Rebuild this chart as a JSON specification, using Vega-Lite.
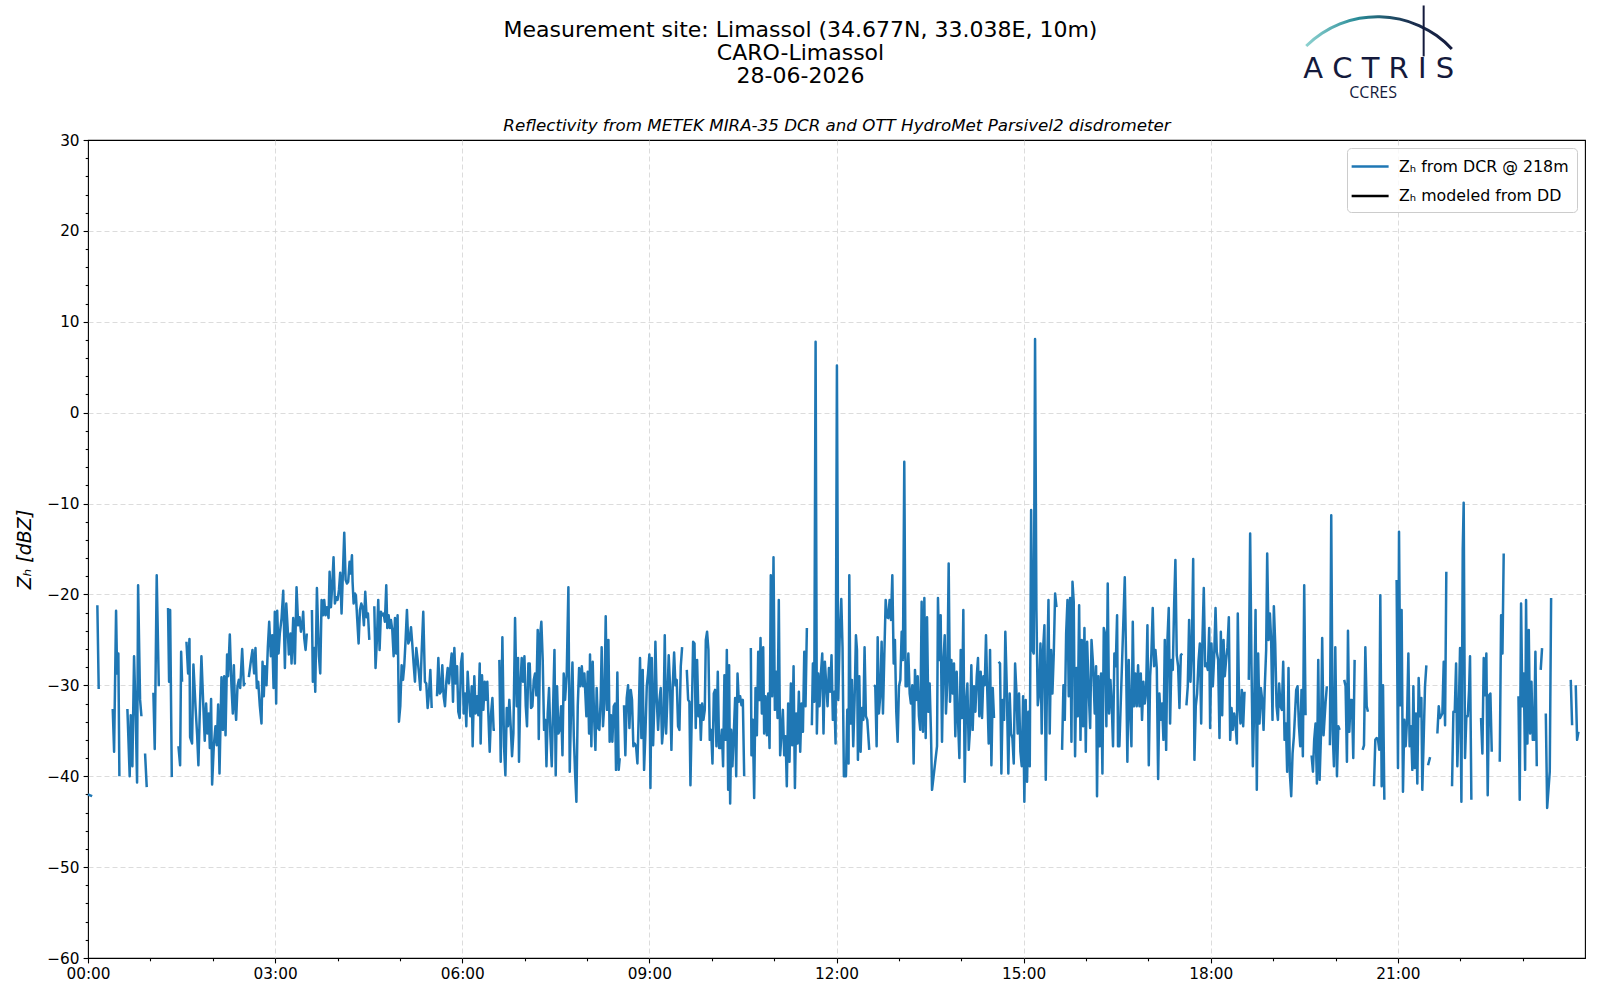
{
  "$schema": "https://vega.github.io/schema/vega-lite/v6.json",
  "width": 1497,
  "height": 818,
  "autosize": {"type": "none"},
  "padding": {"left": 88, "top": 140, "right": 15, "bottom": 42},
  "background": "white",
  "title": {
    "text": ["Measurement site: Limassol (34.677N, 33.038E, 10m)", "CARO-Limassol", "28-06-2026"],
    "anchor": "middle",
    "dx": -36,
    "offset": -84,
    "font": "DejaVu Sans",
    "fontSize": 22,
    "fontWeight": "normal",
    "lineHeight": 23,
    "color": "black"
  },
  "datasets": {
    "dcr": [
      {"m":0,"z":-42},{"m":2,"z":-42.1},{"m":4,"z":-42.2},{"m":6,"z":null},
      {"m":9,"z":-21.2},{"m":10.3,"z":-30.4},{"m":15,"z":null},
      {"m":23.8,"z":-32.6},{"m":25.1,"z":-37.3},{"m":27,"z":-21.8},{"m":28,"z":-28.7},{"m":29.2,"z":-26.5},{"m":30.2,"z":-40},{"m":33,"z":null},
      {"m":37.9,"z":-32.6},{"m":40.1,"z":-40},{"m":41.1,"z":-33.3},{"m":42.7,"z":-38.9},{"m":44.3,"z":-26.8},{"m":45.9,"z":-33.4},{"m":47.2,"z":-40.7},{"m":48.2,"z":-19},{"m":50.1,"z":-31.6},{"m":51.4,"z":-33.4},{"m":53.5,"z":null},
      {"m":54.9,"z":-37.5},{"m":56.5,"z":-41.2},{"m":59,"z":null},
      {"m":62.9,"z":-30.8},{"m":64.2,"z":-37},{"m":66.1,"z":-17.9},{"m":68.1,"z":-30.1},{"m":72,"z":null},
      {"m":77,"z":-21.5},{"m":78,"z":-29.6},{"m":79,"z":-21.7},{"m":80.6,"z":-40.1},{"m":84,"z":null},
      {"m":87,"z":-36.7},{"m":88.6,"z":-38.8},{"m":89.6,"z":-26.3},{"m":90.5,"z":-29.6},{"m":92.5,"z":null},
      {"m":94.7,"z":-25.2},{"m":96.3,"z":-28.7},{"m":97.6,"z":-24.9},{"m":98.2,"z":-35.7},{"m":100.1,"z":-36.4},{"m":101.4,"z":-27.7},{"m":103.4,"z":-32.3},{"m":105,"z":-35.5},{"m":106.2,"z":-38.8},{"m":107.5,"z":-33.1},{"m":109.1,"z":-26.8},{"m":110.7,"z":-31.6},{"m":112.3,"z":-36.1},{"m":113.6,"z":-32},{"m":114.9,"z":-35.3},{"m":116.2,"z":-33.1},{"m":117.2,"z":-36.9},{"m":118.4,"z":-31.5},{"m":119.4,"z":-40.9},{"m":121,"z":-36.7},{"m":122.6,"z":-34.5},{"m":123.9,"z":-36.6},{"m":125.2,"z":-32.1},{"m":126.5,"z":-39.7},{"m":128.4,"z":-29.1},{"m":129.7,"z":-34.9},{"m":131,"z":-29},{"m":132.3,"z":-35.5},{"m":133.8,"z":-26.6},{"m":134.8,"z":-29},{"m":136.4,"z":-24.4},{"m":138,"z":-30.1},{"m":139.3,"z":-33.1},{"m":140.3,"z":-27.8},{"m":141.2,"z":-31.6},{"m":142.5,"z":-33.8},{"m":143.8,"z":-30.1},{"m":145.1,"z":-29.4},{"m":146.4,"z":-30.3},{"m":148.3,"z":-26},{"m":149.9,"z":-30},{"m":150.9,"z":-29.7},{"m":152.5,"z":null},
      {"m":154.7,"z":-29.1},{"m":156.6,"z":-27.4},{"m":158.2,"z":-26.1},{"m":159.8,"z":-28.7},{"m":161.1,"z":-25.9},{"m":162.4,"z":-30.3},{"m":163.7,"z":-29.6},{"m":165.3,"z":-32.3},{"m":166.9,"z":-34.2},{"m":167.9,"z":-27.4},{"m":169.1,"z":-31.2},{"m":170.1,"z":-27.9},{"m":171.7,"z":-30},{"m":173,"z":-25.8},{"m":174.3,"z":-23},{"m":175.9,"z":-26.8},{"m":177.2,"z":-24.5},{"m":178.5,"z":-30.3},{"m":179.7,"z":-21.9},{"m":181,"z":-32},{"m":182,"z":-21.8},{"m":183.3,"z":-26.5},{"m":184.5,"z":-24.3},{"m":186.2,"z":-22.6},{"m":187.8,"z":-19.6},{"m":189.4,"z":-28.1},{"m":190.7,"z":-21},{"m":192,"z":-23.6},{"m":193.2,"z":-26.6},{"m":194.8,"z":-24.3},{"m":195.8,"z":-27.6},{"m":197.4,"z":-22.6},{"m":199,"z":-27.6},{"m":200.6,"z":-19.2},{"m":202.2,"z":-23.4},{"m":203.5,"z":-22.5},{"m":204.8,"z":-24.1},{"m":206.1,"z":-23.2},{"m":207,"z":-21.9},{"m":208,"z":-24.8},{"m":209.3,"z":-26.1},{"m":210.5,"z":-24.3},{"m":212.5,"z":null},
      {"m":215.4,"z":-21.7},{"m":216.3,"z":-29.6},{"m":217.6,"z":-25.9},{"m":218.6,"z":-30.7},{"m":220.2,"z":-19.3},{"m":222.1,"z":-26.8},{"m":223.4,"z":-28.7},{"m":224.7,"z":-20.6},{"m":226,"z":-22.3},{"m":227.2,"z":-20.6},{"m":228.5,"z":-22.3},{"m":229.8,"z":-21.4},{"m":231.4,"z":-22.6},{"m":232.4,"z":-17.5},{"m":233.7,"z":-21.4},{"m":235,"z":-18.8},{"m":236.2,"z":-15.9},{"m":237.5,"z":-21},{"m":238.8,"z":-20.3},{"m":240.1,"z":-20.6},{"m":241.4,"z":-19.5},{"m":242.6,"z":-17.6},{"m":243.9,"z":-22.1},{"m":246.5,"z":-13.2},{"m":247.8,"z":-18.4},{"m":249.1,"z":-18.8},{"m":250.3,"z":-18.6},{"m":251.6,"z":-16.4},{"m":252.6,"z":-17.7},{"m":253.9,"z":-15.7},{"m":254.5,"z":-18.6},{"m":255.5,"z":-21},{"m":256.8,"z":-19.9},{"m":257.7,"z":-20.1},{"m":259,"z":-22.8},{"m":260.3,"z":-25.4},{"m":261.6,"z":-21.7},{"m":262.9,"z":-21},{"m":264.1,"z":-21.4},{"m":265.4,"z":-23.4},{"m":266.7,"z":-19.7},{"m":268,"z":-22.5},{"m":269.3,"z":-22.1},{"m":270.6,"z":-25},{"m":272.5,"z":null},
      {"m":275.4,"z":-21.3},{"m":276.6,"z":-28.1},{"m":277.9,"z":-25},{"m":279.2,"z":-20.6},{"m":280.5,"z":-26.1},{"m":281.8,"z":-21.9},{"m":283.1,"z":-22.3},{"m":284.4,"z":-22.1},{"m":285.6,"z":-23},{"m":286.9,"z":-19},{"m":287.9,"z":-23.7},{"m":289.2,"z":-22.3},{"m":290.4,"z":-23.7},{"m":291.4,"z":-22.8},{"m":292.7,"z":-23.9},{"m":294,"z":-26.8},{"m":295.3,"z":-22.6},{"m":296.5,"z":-26.5},{"m":297.8,"z":-22.3},{"m":299.1,"z":-34},{"m":300.4,"z":-32.3},{"m":301.7,"z":-27.8},{"m":303,"z":-29.4},{"m":304.2,"z":-27.9},{"m":305.5,"z":-25},{"m":306.8,"z":-21.7},{"m":308.1,"z":-25.4},{"m":309.4,"z":-25},{"m":310.7,"z":-23.6},{"m":311.9,"z":-25.4},{"m":313.2,"z":-27.6},{"m":314.5,"z":-29.6},{"m":315.8,"z":-25.9},{"m":317.1,"z":-27.2},{"m":318.4,"z":-28.7},{"m":319.7,"z":-30.5},{"m":320.9,"z":-26.5},{"m":322.5,"z":-21.9},{"m":324.1,"z":-29.6},{"m":325.4,"z":-29.8},{"m":326.7,"z":-32.5},{"m":328,"z":-30.9},{"m":329.3,"z":-28.3},{"m":330.6,"z":-32.5},{"m":332.5,"z":null},
      {"m":335.7,"z":-31.2},{"m":337,"z":-27},{"m":338.3,"z":-30.9},{"m":339.5,"z":-30.7},{"m":340.8,"z":-27.8},{"m":342.1,"z":-31.2},{"m":343.4,"z":-32.3},{"m":344.7,"z":-29.6},{"m":346,"z":-28.1},{"m":347.2,"z":-29.8},{"m":348.5,"z":-28.1},{"m":349.8,"z":-26.5},{"m":351.1,"z":-31.8},{"m":352.4,"z":-25.9},{"m":353.7,"z":-29.8},{"m":355,"z":-27.9},{"m":356.2,"z":-32.9},{"m":357.5,"z":-33.6},{"m":358.8,"z":-27.6},{"m":360.1,"z":-26.5},{"m":361.4,"z":-33.1},{"m":362.7,"z":-30.9},{"m":363.9,"z":-34.5},{"m":365.2,"z":-28.5},{"m":366.5,"z":-31.2},{"m":367.8,"z":-33.4},{"m":369.1,"z":-30.1},{"m":370,"z":-36.7},{"m":371.6,"z":-29},{"m":372.9,"z":-33.1},{"m":374.2,"z":-31.2},{"m":375.5,"z":-33.3},{"m":376.8,"z":-27.6},{"m":377.7,"z":-36.4},{"m":379,"z":-28.9},{"m":380.3,"z":-32.7},{"m":381.6,"z":-29.6},{"m":382.9,"z":-31.6},{"m":384.1,"z":-29.6},{"m":385.1,"z":-33.1},{"m":386.4,"z":-37.3},{"m":387.7,"z":-33.1},{"m":389,"z":-31.4},{"m":390.2,"z":-34.9},{"m":391.5,"z":-34.9},{"m":393.5,"z":null},
      {"m":395.7,"z":-27.2},{"m":397,"z":-38.4},{"m":398.6,"z":-24.7},{"m":400.2,"z":-36.7},{"m":401.5,"z":-39.9},{"m":402.8,"z":-32.5},{"m":404,"z":-34.5},{"m":405.3,"z":-31.6},{"m":406.6,"z":-34.5},{"m":407.9,"z":-37.8},{"m":409.2,"z":-35.3},{"m":410.8,"z":-22.6},{"m":412.4,"z":-32.3},{"m":413.7,"z":-27},{"m":414.6,"z":-38.4},{"m":415.9,"z":-30.1},{"m":417.2,"z":-27},{"m":418.5,"z":-29.6},{"m":419.8,"z":-26.8},{"m":421.1,"z":-32.3},{"m":422.3,"z":-34.5},{"m":423.6,"z":-27.6},{"m":424.9,"z":-27.6},{"m":426.2,"z":-32.5},{"m":427.5,"z":-32.3},{"m":428.8,"z":-29.4},{"m":430,"z":-28.7},{"m":431.3,"z":-31.1},{"m":432.6,"z":-23.9},{"m":433.6,"z":-35.9},{"m":434.9,"z":-24.5},{"m":436.1,"z":-23},{"m":437.4,"z":-27.2},{"m":438.7,"z":-34.9},{"m":440,"z":-33.8},{"m":441,"z":-38.9},{"m":442.2,"z":-33.1},{"m":443.5,"z":-30.3},{"m":444.8,"z":-35.6},{"m":446.1,"z":-38.9},{"m":447.4,"z":-32.3},{"m":448.7,"z":-26.1},{"m":449.9,"z":-39.9},{"m":451.2,"z":-30.1},{"m":452.5,"z":-35.3},{"m":453.8,"z":-34.9},{"m":455.1,"z":-32.3},{"m":456.4,"z":-37.7},{"m":457.6,"z":-28.7},{"m":458.9,"z":-31.6},{"m":460.5,"z":-28.7},{"m":462.1,"z":-19.2},{"m":463.4,"z":-39.5},{"m":464.7,"z":-32.3},{"m":466,"z":-27.5},{"m":467.3,"z":-35.6},{"m":468.5,"z":-39.5},{"m":469.8,"z":-42.8},{"m":471.1,"z":-32.3},{"m":472.4,"z":-28.1},{"m":473.7,"z":-30.1},{"m":475,"z":-27.9},{"m":476.3,"z":-30.1},{"m":477.5,"z":-28.7},
      {"m":479.4,"z":-33.4},{"m":480.7,"z":-28.5},{"m":482,"z":-35.3},{"m":482.9,"z":-26.6},{"m":484.2,"z":-36.7},{"m":485.5,"z":-27.4},{"m":486.8,"z":-33.4},{"m":488.1,"z":-37.1},{"m":489.3,"z":-30.3},{"m":490.6,"z":-34.7},{"m":491.9,"z":-34.9},{"m":493.2,"z":-31.4},{"m":494.1,"z":-25.8},{"m":495.4,"z":-34.5},{"m":496.7,"z":-32},{"m":498,"z":-22.4},{"m":499.3,"z":-32.7},{"m":500.6,"z":-25},{"m":501.8,"z":-36.2},{"m":503.1,"z":-33.3},{"m":504.4,"z":-36.2},{"m":505.7,"z":-32.3},{"m":507,"z":-32},{"m":507.9,"z":-39.3},{"m":509.2,"z":-28.6},{"m":510.5,"z":-39.3},{"m":511.5,"z":-38},{"m":513.5,"z":null},
      {"m":515.6,"z":-32.2},{"m":516.9,"z":-37.7},{"m":518.2,"z":-31.4},{"m":519.5,"z":-30},{"m":520.8,"z":-34.7},{"m":522.1,"z":-30.5},{"m":523.3,"z":-31.6},{"m":524.6,"z":-36.7},{"m":525.9,"z":-36.4},{"m":527.2,"z":-36.7},{"m":528.5,"z":-38.6},{"m":529.8,"z":-33.1},{"m":531,"z":-27},{"m":532.3,"z":-35.8},{"m":533.6,"z":-28.3},{"m":534.9,"z":-39.3},{"m":536.2,"z":-35.3},{"m":537.5,"z":-30.1},{"m":538.7,"z":-28.7},{"m":540,"z":-26.6},{"m":541,"z":-41.3},{"m":542.3,"z":-27},{"m":543.6,"z":-36.6},{"m":544.8,"z":-31.8},{"m":545.8,"z":-25.2},{"m":547.1,"z":-31.6},{"m":548.4,"z":-34.9},{"m":549.7,"z":-31.6},{"m":550.9,"z":-30.3},{"m":552.2,"z":-36.4},{"m":553.5,"z":-34.5},{"m":554.8,"z":-24.5},{"m":556.1,"z":-35.3},{"m":557.4,"z":-31.2},{"m":558.6,"z":-26.7},{"m":559.9,"z":-30.1},{"m":561.2,"z":-37.1},{"m":562.5,"z":-30},{"m":563.8,"z":-26.4},{"m":565.1,"z":-30},{"m":566.3,"z":-29.4},{"m":567.6,"z":-34.5},{"m":568.9,"z":-34.9},{"m":570.2,"z":-27.9},{"m":571.5,"z":-25.8},{"m":573.5,"z":null},
      {"m":576,"z":-28.3},{"m":577.3,"z":-31.6},{"m":578.5,"z":-31.8},{"m":579.5,"z":-41},{"m":580.8,"z":-33.1},{"m":582.1,"z":-25.2},{"m":583.4,"z":-25.4},{"m":584.6,"z":-34.7},{"m":585.9,"z":-27.2},{"m":587.2,"z":-33.4},{"m":588.5,"z":-32.2},{"m":589.5,"z":-36},{"m":590.7,"z":-32},{"m":592,"z":-33.8},{"m":593.3,"z":-32.7},{"m":594.3,"z":-25},{"m":595.5,"z":-24.1},{"m":596.8,"z":-26.1},{"m":598.1,"z":-36},{"m":599.4,"z":-34.9},{"m":600.7,"z":-38.6},{"m":602,"z":-30.9},{"m":603.2,"z":-30.5},{"m":604.5,"z":-36.7},{"m":605.8,"z":-28.5},{"m":607.1,"z":-36.9},{"m":608.4,"z":-36.9},{"m":609.7,"z":-34.9},{"m":610.9,"z":-38.9},{"m":612.2,"z":-28.9},{"m":613.5,"z":-36},{"m":614.5,"z":-26.1},{"m":615.8,"z":-41.5},{"m":616.7,"z":-27.8},{"m":617.7,"z":-43},{"m":618.7,"z":-34.9},{"m":619.9,"z":-38.9},{"m":621.2,"z":-35.3},{"m":622.5,"z":-31.4},{"m":623.5,"z":-40},{"m":624.8,"z":-28.7},{"m":626,"z":-31.8},{"m":627.3,"z":-31.2},{"m":628.6,"z":-32.2},{"m":629.9,"z":-31.6},{"m":631.2,"z":-40},{"m":634,"z":null},
      {"m":637.6,"z":-25.9},{"m":638.2,"z":-37.7},{"m":639.5,"z":-33.8},{"m":640.8,"z":-42.4},{"m":642.1,"z":-30.3},{"m":643.4,"z":-35.5},{"m":644.7,"z":-26.3},{"m":645.9,"z":-31.6},{"m":646.9,"z":-24.8},{"m":648.2,"z":-33.1},{"m":649.5,"z":-25.8},{"m":650.4,"z":-35.3},{"m":651.7,"z":-31.2},{"m":653,"z":-35.5},{"m":654.3,"z":-30.9},{"m":655.6,"z":-36.9},{"m":656.8,"z":-17.9},{"m":658.1,"z":-31.2},{"m":659.4,"z":-15.9},{"m":660.7,"z":-32.7},{"m":662,"z":-28.5},{"m":663.3,"z":-33.6},{"m":664.5,"z":-20.6},{"m":665.8,"z":-37.7},{"m":667.1,"z":-35.3},{"m":668.4,"z":-32.7},{"m":669.7,"z":-37.7},{"m":671,"z":-35.6},{"m":672.2,"z":-41.1},{"m":673.5,"z":-32},{"m":674.8,"z":-38.4},{"m":676.1,"z":-29.8},{"m":677.4,"z":-36.6},{"m":678.7,"z":-27.9},{"m":680,"z":-41.3},{"m":681.2,"z":-33.1},{"m":682.5,"z":-36.4},{"m":683.8,"z":-30.7},{"m":685.1,"z":-37.3},{"m":686.4,"z":-32},{"m":687.7,"z":-35.1},{"m":689,"z":-26.3},{"m":690.2,"z":-32.3},{"m":691.5,"z":-23.7},{"m":694,"z":null},
      {"m":696.3,"z":-34.4},{"m":697.3,"z":-27.6},{"m":698.6,"z":-31.8},{"m":699.9,"z":7.8},{"m":701.1,"z":-35.3},{"m":702.4,"z":-28.7},{"m":703.7,"z":-32.3},{"m":705,"z":-28.7},{"m":706.3,"z":-26.5},{"m":707.5,"z":-35.3},{"m":708.8,"z":-27.4},{"m":710.1,"z":-29.8},{"m":711.4,"z":-32.3},{"m":712.7,"z":-28.1},{"m":714,"z":-30.7},{"m":715.2,"z":-26.7},{"m":716.5,"z":-33.8},{"m":717.8,"z":-30.7},{"m":719.1,"z":-36.4},{"m":720.4,"z":5.2},{"m":721.7,"z":-31.6},{"m":723,"z":-25},{"m":724.6,"z":-20.5},{"m":725.8,"z":-25.8},{"m":727.1,"z":-40},{"m":729.1,"z":-40},{"m":730.4,"z":-32.7},{"m":731.6,"z":-38.6},{"m":732.3,"z":-17.9},{"m":733.6,"z":-34.2},{"m":734.8,"z":-29.4},{"m":736.1,"z":-36.7},{"m":737.4,"z":-31.6},{"m":738.7,"z":-24.5},{"m":739.7,"z":-26.1},{"m":740.6,"z":-38.2},{"m":741.9,"z":-29},{"m":743.2,"z":-37.3},{"m":744.5,"z":-32.5},{"m":745.8,"z":-33.8},{"m":747,"z":-25.8},{"m":748.3,"z":-33.4},{"m":749.6,"z":-33.8},{"m":751.5,"z":-37.1},{"m":753.5,"z":null},
      {"m":756,"z":-30},{"m":757.3,"z":-30.1},{"m":758.6,"z":-36.7},{"m":759.6,"z":-24.7},{"m":760.8,"z":-33.1},{"m":762.1,"z":-31.1},{"m":763.4,"z":-25.2},{"m":764.7,"z":-33.1},{"m":766,"z":-26.7},{"m":767.3,"z":-20.6},{"m":768.5,"z":-22.5},{"m":769.8,"z":-22.6},{"m":771.1,"z":-20.6},{"m":772.4,"z":-22.8},{"m":773.7,"z":-17.9},{"m":775,"z":-27.6},{"m":776.2,"z":-25},{"m":777.5,"z":-32.9},{"m":778.8,"z":-36.2},{"m":780.1,"z":-30.1},{"m":781.4,"z":-29.4},{"m":782.7,"z":-24.1},{"m":783.9,"z":-27.2},{"m":785.2,"z":-5.4},{"m":786.5,"z":-30.1},{"m":787.8,"z":-30.1},{"m":789.1,"z":-26.5},{"m":790.4,"z":-30.9},{"m":791.6,"z":-32},{"m":792.9,"z":-30},{"m":794.2,"z":-38.6},{"m":795.5,"z":-28.3},{"m":796.8,"z":-31.6},{"m":798.1,"z":-29},{"m":799.3,"z":-33.4},{"m":800.6,"z":-34.9},{"m":801.9,"z":-20.8},{"m":803.2,"z":-35.1},{"m":804.5,"z":-20.4},{"m":805.8,"z":-35.8},{"m":807.1,"z":-22.5},{"m":808.3,"z":-32.9},{"m":809.6,"z":-29.8},{"m":810.9,"z":-35.3},{"m":811.9,"z":-41.5},{"m":816.7,"z":-36.7},{"m":817.6,"z":-20.4},{"m":818.9,"z":-27.2},{"m":820.2,"z":-22.3},{"m":821.5,"z":-36.2},{"m":822.8,"z":-27.4},{"m":824.1,"z":-24.5},{"m":825.3,"z":-33.1},{"m":826.6,"z":-29.6},{"m":827.9,"z":-16.6},{"m":829.2,"z":-31.8},{"m":830.5,"z":-27.2},{"m":831.8,"z":-30.9},{"m":833,"z":-27.6},{"m":834.3,"z":-35.6},{"m":835.6,"z":-28.5},{"m":836.9,"z":-33.8},{"m":838.2,"z":-38},{"m":839.5,"z":-26.1},{"m":840.7,"z":-33.6},{"m":842,"z":-21.7},{"m":843.3,"z":-40.6},{"m":844.6,"z":-32},{"m":845.9,"z":-29.8},{"m":847.2,"z":-37.1},{"m":848.4,"z":-34.9},{"m":849.7,"z":-27.8},{"m":851,"z":-34.9},{"m":852.3,"z":-30.1},{"m":853.6,"z":-32.9},{"m":854.9,"z":-29},{"m":856.1,"z":-27},{"m":857.4,"z":-33.4},{"m":858.7,"z":-28.5},{"m":860,"z":-33.6},{"m":861.3,"z":-29},{"m":862.6,"z":-30},{"m":863.8,"z":-24.5},{"m":865.1,"z":-30.9},{"m":866.4,"z":-36.4},{"m":867.7,"z":-26.1},{"m":869,"z":-38.8},{"m":870.3,"z":-30.3},{"m":871.5,"z":-33.6},{"m":873.5,"z":null},
      {"m":876,"z":-27.4},{"m":877.3,"z":-27.6},{"m":878.6,"z":-39.7},{"m":879.9,"z":-31.6},{"m":881.2,"z":-33.8},{"m":882.4,"z":-24.1},{"m":883.7,"z":-29.8},{"m":885.3,"z":-39.7},{"m":886.6,"z":-30.9},{"m":887.9,"z":-35.3},{"m":889.2,"z":-35.8},{"m":890.5,"z":-38.6},{"m":891.8,"z":-27.6},{"m":893,"z":-30.5},{"m":894.3,"z":-35.3},{"m":895.6,"z":-30.9},{"m":896.9,"z":-37.3},{"m":898.2,"z":-38.9},{"m":899.5,"z":-31.2},{"m":900.7,"z":-42.8},{"m":902,"z":-31.6},{"m":903.3,"z":-40.6},{"m":904.6,"z":-32.9},{"m":905.9,"z":-38.9},{"m":907.2,"z":-10.7},{"m":908.5,"z":-26.1},{"m":909.7,"z":-26.5},{"m":911,"z":8.1},{"m":912.3,"z":-21.7},{"m":913.6,"z":-32.2},{"m":914.9,"z":-30.9},{"m":916.2,"z":-25.4},{"m":917.4,"z":-35.3},{"m":918.7,"z":-26.1},{"m":920,"z":-23.4},{"m":921.3,"z":-40.4},{"m":922.6,"z":-28.7},{"m":923.9,"z":-20.6},{"m":925.1,"z":-35.3},{"m":926.4,"z":-26.1},{"m":927.7,"z":-30.9},{"m":929,"z":-26.5},{"m":930.3,"z":-19.9},{"m":931.6,"z":-21.4},{"m":934,"z":null},
      {"m":937,"z":-37.1},{"m":938.3,"z":-30},{"m":939.6,"z":-33.8},{"m":940.9,"z":-24.3},{"m":942.2,"z":-20.6},{"m":943.4,"z":-31.2},{"m":944.7,"z":-20.4},{"m":946,"z":-36.2},{"m":947,"z":-18.6},{"m":948.2,"z":-20.8},{"m":949.5,"z":-37.8},{"m":950.8,"z":-28.1},{"m":952.1,"z":-33.4},{"m":953.4,"z":-21.2},{"m":954.7,"z":-36},{"m":955.9,"z":-25},{"m":957.2,"z":-34.5},{"m":958.5,"z":-23.7},{"m":959.8,"z":-37.3},{"m":961.1,"z":-25.2},{"m":962.7,"z":-30.9},{"m":964,"z":-34.7},{"m":965.3,"z":-25},{"m":966.9,"z":-27.9},{"m":968.4,"z":-33.1},{"m":969.7,"z":-27.9},{"m":970.6,"z":-42.2},{"m":971.9,"z":-29},{"m":973.2,"z":-36.7},{"m":974.5,"z":-28.7},{"m":975.8,"z":-39.7},{"m":977.1,"z":-23.7},{"m":978.3,"z":-24.3},{"m":979.6,"z":-34.5},{"m":980.9,"z":-18.8},{"m":982.2,"z":-33.1},{"m":983.5,"z":-29.4},{"m":984.8,"z":-32.3},{"m":986,"z":-36.7},{"m":987.3,"z":-26.5},{"m":988.6,"z":-27.9},{"m":989.9,"z":-22.3},{"m":990.8,"z":-36.7},{"m":992.1,"z":-36.7},{"m":997.3,"z":-18.1},{"m":998.5,"z":-26.8},{"m":999.8,"z":-38.4},{"m":1001.1,"z":-27.2},{"m":1002.4,"z":-32.7},{"m":1003.7,"z":-36.7},{"m":1005,"z":-23},{"m":1006.2,"z":-32.3},{"m":1007.5,"z":-28.7},{"m":1008.8,"z":-32.3},{"m":1010.1,"z":-27.8},{"m":1011.4,"z":-32.3},{"m":1012.7,"z":-28.7},{"m":1013.9,"z":-33.8},{"m":1015.2,"z":-29.6},{"m":1016.5,"z":-32},{"m":1017.8,"z":-30.7},{"m":1019.1,"z":-23.4},{"m":1020.4,"z":-38.8},{"m":1021.7,"z":-29},{"m":1022.9,"z":-26.5},{"m":1024.2,"z":-21.5},{"m":1025.5,"z":-27.9},{"m":1026.8,"z":-26.1},{"m":1028.1,"z":-28.1},{"m":1029.4,"z":-40.3},{"m":1030.6,"z":-30.9},{"m":1031.9,"z":-33.8},{"m":1033.2,"z":-32},{"m":1034.5,"z":-36},{"m":1035.8,"z":-25},{"m":1037.1,"z":-37.1},{"m":1038.4,"z":-24.8},{"m":1039.6,"z":-21.5},{"m":1040.9,"z":-34.2},{"m":1042.2,"z":-27.2},{"m":1043.5,"z":-28.3},{"m":1044.8,"z":-21},{"m":1046,"z":-16.2},{"m":1047.3,"z":-26.7},{"m":1048.6,"z":-27.9},{"m":1049.9,"z":-32.5},{"m":1051.2,"z":-26.7},{"m":1052.5,"z":-26.5},{"m":1054.5,"z":null},
      {"m":1056.6,"z":-32.2},{"m":1057.9,"z":-30.1},{"m":1059.2,"z":-22.8},{"m":1060.5,"z":-29.6},{"m":1061.8,"z":-25.8},{"m":1063.1,"z":-16.1},{"m":1064.3,"z":-38.2},{"m":1065.6,"z":-32.3},{"m":1066.9,"z":-30.9},{"m":1068.2,"z":-27.4},{"m":1069.5,"z":-25.4},{"m":1070.8,"z":-34.2},{"m":1072,"z":-25},{"m":1073.3,"z":-19.3},{"m":1074.6,"z":-27.9},{"m":1075.9,"z":-27.6},{"m":1077.2,"z":-28.3},{"m":1078.5,"z":-23.7},{"m":1079.4,"z":-34.7},{"m":1080.7,"z":-25.4},{"m":1082,"z":-30.1},{"m":1083.3,"z":-26.8},{"m":1084.6,"z":-21.5},{"m":1085.8,"z":-26.3},{"m":1087.1,"z":-27.2},{"m":1088.4,"z":-35.8},{"m":1089.7,"z":-24.1},{"m":1091,"z":-33.3},{"m":1092.3,"z":-25},{"m":1093.5,"z":-29},{"m":1094.8,"z":-27.2},{"m":1096.1,"z":-25.8},{"m":1097.4,"z":-22.5},{"m":1098.7,"z":-36},{"m":1100,"z":-32.5},{"m":1101.2,"z":-34.9},{"m":1102.5,"z":-33.1},{"m":1103.8,"z":-34.2},{"m":1105.1,"z":-36.4},{"m":1106,"z":-22.1},{"m":1107.3,"z":-32},{"m":1108.6,"z":-34.2},{"m":1109.9,"z":-30.5},{"m":1111.2,"z":-34.5},{"m":1112.5,"z":-30.7},{"m":1114.5,"z":null},
      {"m":1116.6,"z":-29.4},{"m":1117.9,"z":-13.3},{"m":1119.2,"z":-27.9},{"m":1120.5,"z":-38.9},{"m":1121.8,"z":-32.3},{"m":1123.1,"z":-21.7},{"m":1124.3,"z":-41.5},{"m":1125.6,"z":-26.5},{"m":1126.9,"z":-34.2},{"m":1128.2,"z":-30.3},{"m":1129.5,"z":-31.6},{"m":1130.8,"z":-34.9},{"m":1132,"z":-30.1},{"m":1133.3,"z":-26.1},{"m":1134.3,"z":-15.5},{"m":1135.6,"z":-25},{"m":1136.9,"z":-22.1},{"m":1138.1,"z":-25},{"m":1139.4,"z":-33.8},{"m":1140.7,"z":-21.3},{"m":1142,"z":-25.4},{"m":1143.3,"z":-32.3},{"m":1144.6,"z":-33.8},{"m":1145.8,"z":-29.8},{"m":1147.1,"z":-32.3},{"m":1148.4,"z":-32.7},{"m":1149.7,"z":-27.4},{"m":1151,"z":-36},{"m":1152.3,"z":-34.2},{"m":1153.5,"z":-39.5},{"m":1154.8,"z":-28.1},{"m":1156.1,"z":-39.7},{"m":1157.4,"z":-42.2},{"m":1158.7,"z":-37.5},{"m":1160,"z":-35.6},{"m":1162.2,"z":-30.5},{"m":1163.5,"z":-30.1},{"m":1164.8,"z":-34.4},{"m":1166.1,"z":-36.7},{"m":1167.3,"z":-30.5},{"m":1168.6,"z":-37.8},{"m":1169.9,"z":-19},{"m":1171.2,"z":-33.3},{"m":1173.5,"z":null},
      {"m":1177,"z":-37.7},{"m":1178.3,"z":-39.5},{"m":1179.5,"z":-36},{"m":1180.8,"z":-34.2},{"m":1182.1,"z":-40.8},{"m":1183.4,"z":-27.2},{"m":1184.7,"z":-40.4},{"m":1186,"z":-35.6},{"m":1187.2,"z":-24.8},{"m":1188.5,"z":-35.5},{"m":1190.5,"z":-31.8},{"m":1191.7,"z":-30.1},{"m":1193,"z":null},
      {"m":1194.6,"z":-36.6},{"m":1195.9,"z":-11.3},{"m":1197.2,"z":-34.9},{"m":1198.5,"z":-38.9},{"m":1199.8,"z":-25.8},{"m":1201.4,"z":-40},{"m":1202.7,"z":-34.5},{"m":1204,"z":-34.9},{"m":1206,"z":null},
      {"m":1208.4,"z":-29.4},{"m":1209.7,"z":-30.1},{"m":1211,"z":-38.4},{"m":1212,"z":-24},{"m":1213.3,"z":-35.1},{"m":1214.5,"z":-31.6},{"m":1215.8,"z":-31.6},{"m":1217.1,"z":-38},{"m":1218.4,"z":-27.2},{"m":1221,"z":null},
      {"m":1226.1,"z":-37.1},{"m":1227.4,"z":-36.6},{"m":1228.7,"z":-25.8},{"m":1230,"z":-32.3},{"m":1231.2,"z":-32.9},{"m":1233,"z":null},
      {"m":1237,"z":-41.1},{"m":1238.3,"z":-36},{"m":1239.6,"z":-35.8},{"m":1240.9,"z":-36},{"m":1242.1,"z":-37.1},{"m":1243.1,"z":-20.1},{"m":1244.4,"z":-41.1},{"m":1245.7,"z":-30},{"m":1247,"z":-42.6},{"m":1250,"z":null},
      {"m":1258.8,"z":-18.4},{"m":1260.1,"z":-39.1},{"m":1261.1,"z":-13.1},{"m":1262.4,"z":-32.2},{"m":1263.6,"z":-21.7},{"m":1264.9,"z":-41.7},{"m":1266.2,"z":-33.8},{"m":1267.5,"z":-36.7},{"m":1268.8,"z":-33.8},{"m":1270.1,"z":-26.5},{"m":1271.3,"z":-36.7},{"m":1272.6,"z":-34.5},{"m":1273.9,"z":-39.3},{"m":1274.9,"z":-30.1},{"m":1276.2,"z":-39.1},{"m":1277.4,"z":-33.1},{"m":1278.7,"z":-40.8},{"m":1280,"z":-29.2},{"m":1281.3,"z":-33.4},{"m":1282.6,"z":-31.4},{"m":1283.5,"z":-41.5},{"m":1284.8,"z":-36},{"m":1286.1,"z":-30.1},{"m":1287.4,"z":-27.8},{"m":1288.2,"z":null},
      {"m":1289,"z":-38.8},{"m":1291,"z":-37.9},{"m":1293,"z":null},
      {"m":1298,"z":-35.3},{"m":1299.3,"z":-32.3},{"m":1300.5,"z":-33.6},{"m":1302.8,"z":-33.1},{"m":1304.1,"z":-27.4},{"m":1305.4,"z":-34.4},{"m":1306.6,"z":-17.5},{"m":1309,"z":null},
      {"m":1312.1,"z":-41.1},{"m":1313.4,"z":-32.9},{"m":1314.7,"z":-32.9},{"m":1316,"z":-27.6},{"m":1317.2,"z":-38.9},{"m":1318.5,"z":-33.4},{"m":1319.8,"z":-25.9},{"m":1321.1,"z":-42.8},{"m":1322.4,"z":-15},{"m":1323.3,"z":-9.9},{"m":1324.6,"z":-38},{"m":1325.9,"z":-33.4},{"m":1327.2,"z":-33.4},{"m":1328.5,"z":-30.5},{"m":1329.4,"z":-26.8},{"m":1330.7,"z":-42.6},{"m":1333,"z":null},
      {"m":1340,"z":-33.6},{"m":1341.3,"z":-37.5},{"m":1342.6,"z":-27},{"m":1343.9,"z":-31.1},{"m":1345.1,"z":-26.5},{"m":1346.4,"z":-42.1},{"m":1347.7,"z":-31.1},{"m":1349,"z":-30.9},{"m":1350.3,"z":-37.3},{"m":1353,"z":null},
      {"m":1358,"z":-38.4},{"m":1359.3,"z":-22.3},{"m":1360.6,"z":-26.5},{"m":1361.8,"z":-15.5},{"m":1364,"z":null},
      {"m":1376,"z":-31.2},{"m":1377.2,"z":-42.6},{"m":1378.5,"z":-21},{"m":1379.8,"z":-32.3},{"m":1381.1,"z":-28.7},{"m":1382.4,"z":-39.3},{"m":1383.3,"z":-20.6},{"m":1384.6,"z":-36.4},{"m":1385.9,"z":-23.9},{"m":1387.2,"z":-35.3},{"m":1388.5,"z":-29.6},{"m":1389.8,"z":-36},{"m":1391,"z":-36},{"m":1392.3,"z":-26.3},{"m":1393.6,"z":-38.9},{"m":1396,"z":null},
      {"m":1397.4,"z":-28.3},{"m":1398.7,"z":-25.9},{"m":1401,"z":null},
      {"m":1402.3,"z":-33.1},{"m":1403.6,"z":-43.5},{"m":1406.1,"z":-39.5},{"m":1407.4,"z":-20.4},{"m":1410,"z":null},
      {"m":1426.3,"z":-29.4},{"m":1427.6,"z":-34.4},{"m":1429,"z":null},
      {"m":1431.1,"z":-30},{"m":1432.4,"z":-36},{"m":1433.7,"z":-35.1}
    ]
  },
  "layer": [
    {
      "data": {"name": "dcr"},
      "mark": {"type": "line", "strokeWidth": 2.5, "strokeJoin": "round", "invalid": "break-paths-filter-domains"},
      "encoding": {
        "x": {
          "field": "m",
          "type": "quantitative",
          "scale": {"domain": [0, 1440], "nice": false, "zero": false},
          "axis": {
            "orient": "bottom",
            "title": null,
            "values": [0,60,120,180,240,300,360,420,480,540,600,660,720,780,840,900,960,1020,1080,1140,1200,1260,1320,1380],
            "labelExpr": "datum.value % 180 === 0 ? pad(floor(datum.value / 60), 2, '0', 'left') + ':00' : ''",
            "labelFlush": false,
            "labelOverlap": false,
            "labelFontSize": 15.3,
            "labelPadding": 4,
            "labelColor": "black",
            "domain": false,
            "ticks": true,
            "tickColor": "black",
            "tickWidth": 1.1,
            "tickSize": {"condition": {"test": "datum.value % 180 === 0", "value": 4.9}, "value": 2.8},
            "grid": true,
            "gridColor": "#d3d3d3",
            "gridDash": [5, 3],
            "gridWidth": 0.8,
            "gridOpacity": {"condition": {"test": "datum.value % 180 === 0 && datum.value > 0", "value": 1}, "value": 0}
          }
        },
        "y": {
          "field": "z",
          "type": "quantitative",
          "scale": {"domain": [-60, 30], "nice": false, "zero": false},
          "axis": {
            "orient": "left",
            "title": "Zₕ [dBZ]",
            "titleFontStyle": "italic",
            "titleFontWeight": "normal",
            "titleFontSize": 19,
            "titleColor": "black",
            "titlePadding": 12,
            "values": [-60,-58,-56,-54,-52,-50,-48,-46,-44,-42,-40,-38,-36,-34,-32,-30,-28,-26,-24,-22,-20,-18,-16,-14,-12,-10,-8,-6,-4,-2,0,2,4,6,8,10,12,14,16,18,20,22,24,26,28,30],
            "labelExpr": "datum.value % 10 === 0 ? replace(format(datum.value, 'd'), '-', '−') : ''",
            "labelOverlap": false,
            "labelFontSize": 15.3,
            "labelPadding": 4,
            "labelColor": "black",
            "domain": false,
            "tickColor": "black",
            "tickWidth": 1.1,
            "tickSize": {"condition": {"test": "datum.value % 10 === 0", "value": 4.9}, "value": 2.8},
            "grid": true,
            "gridColor": "#d3d3d3",
            "gridDash": [5, 3],
            "gridWidth": 0.8,
            "gridOpacity": {"condition": {"test": "datum.value % 10 === 0 && datum.value > -60 && datum.value < 30", "value": 1}, "value": 0}
          }
        },
        "color": {
          "datum": "Zₕ from DCR @ 218m",
          "scale": {"domain": ["Zₕ from DCR @ 218m", "Zₕ modeled from DD"], "range": ["#1f77b4", "#000000"]},
          "legend": {
            "orient": "top-right",
            "offset": 8,
            "title": null,
            "symbolType": "M-1.5,0H2.5",
            "symbolSize": 342,
            "symbolStrokeWidth": 2.5,
            "labelFontSize": 15.8,
            "labelColor": "black",
            "labelLimit": 400,
            "labelOffset": 23,
            "padding": 8,
            "rowPadding": 10.5,
            "strokeColor": "#cccccc",
            "fillColor": "rgba(255,255,255,0.8)",
            "cornerRadius": 4
          }
        }
      }
    },
    {
      "data": {"values": [{}]},
      "mark": {
        "type": "arc",
        "radius": 103,
        "radius2": 100,
        "theta": -0.78,
        "theta2": 0.82,
        "color": {
          "gradient": "linear",
          "x1": 0, "y1": 0, "x2": 1, "y2": 0,
          "stops": [
            {"offset": 0, "color": "#8fd3d1"},
            {"offset": 0.35, "color": "#2a8c98"},
            {"offset": 0.7, "color": "#1b3150"},
            {"offset": 1, "color": "#141a3c"}
          ]
        }
      },
      "encoding": {
        "x": {"datum": 1240.5, "type": "quantitative", "axis": null},
        "y": {"datum": 32.4, "type": "quantitative", "axis": null}
      }
    },
    {
      "data": {"values": [{}]},
      "mark": {"type": "rule", "color": "#141a3c", "strokeWidth": 2},
      "encoding": {
        "x": {"datum": 1284.8, "type": "quantitative", "axis": null},
        "y": {"datum": 44.8, "type": "quantitative", "axis": null},
        "y2": {"datum": 39.2}
      }
    },
    {
      "data": {"values": [{}]},
      "mark": {"type": "text", "font": "DejaVu Sans", "fontSize": 29, "color": "#141a3c", "align": "center", "baseline": "alphabetic"},
      "encoding": {
        "x": {
          "datum": 1241.5,
          "type": "quantitative",
          "axis": {
            "orient": "top",
            "title": "Reflectivity from METEK MIRA-35 DCR and OTT HydroMet Parsivel2 disdrometer",
            "titleFont": "DejaVu Sans",
            "titleFontSize": 16.7,
            "titleFontStyle": "italic",
            "titleFontWeight": "normal",
            "titleColor": "black",
            "titlePadding": 6,
            "labels": false,
            "ticks": false,
            "domain": false,
            "grid": false
          }
        },
        "y": {"datum": 36.8, "type": "quantitative", "axis": null},
        "text": {"value": "A C T R I S"}
      }
    },
    {
      "data": {"values": [{}]},
      "mark": {"type": "text", "font": "Open Sans", "fontSize": 16, "color": "#141a3c", "align": "center", "baseline": "alphabetic"},
      "encoding": {
        "x": {"datum": 1236.2, "type": "quantitative", "axis": null},
        "y": {"datum": 34.6, "type": "quantitative", "axis": null},
        "text": {"value": "CCRES"}
      }
    }
  ],
  "resolve": {"axis": {"x": "independent", "y": "independent"}},
  "config": {
    "font": "DejaVu Sans",
    "view": {"stroke": "black", "strokeWidth": 1.1},
    "legend": {"labelFont": "DejaVu Sans"}
  }
}
